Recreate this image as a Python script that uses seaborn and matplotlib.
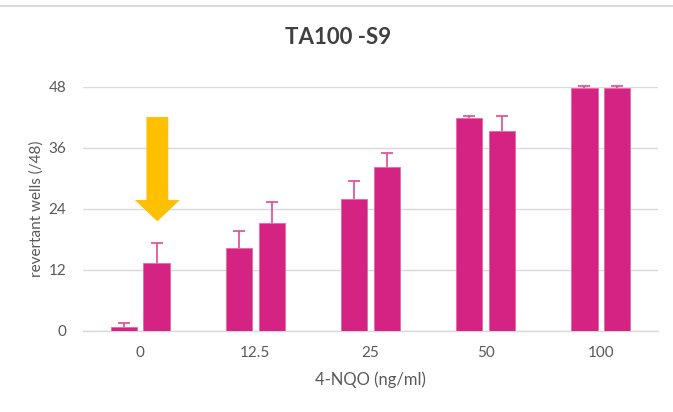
import matplotlib
matplotlib.use("Agg")
import matplotlib.pyplot as plt
import seaborn as sns
import pandas as pd
from matplotlib.patches import FancyArrow
from matplotlib.lines import Line2D

# ---- data ----
concentrations = ["0", "12.5", "25", "50", "100"]
series_a = [0.8, 16.2, 25.9, 41.8, 47.7]
series_b = [13.4, 21.2, 32.1, 39.3, 47.7]
err_a = [0.8, 3.4, 3.6, 0.5, 0.5]
err_b = [3.8, 4.1, 2.9, 3.0, 0.5]
yticks = [0, 12, 24, 36, 48]

BAR = "#D42382"
GRID = "#D9D9D9"
TXT = "#595959"

sns.set_theme(style="white")
plt.rcParams['font.family'] = ['Lato', 'DejaVu Sans']

df = pd.DataFrame({
    "conc": concentrations * 2,
    "series": ["A"] * 5 + ["B"] * 5,
    "value": series_a + series_b,
})
errs = {"A": err_a, "B": err_b}
vals = {"A": series_a, "B": series_b}

fig = plt.figure(figsize=(6.73, 4.12), dpi=100)
ax = fig.add_axes([0.123, 0.197, 0.855, 0.593])

sns.barplot(data=df, x="conc", y="value", hue="series", order=concentrations,
            hue_order=["A", "B"], palette=[BAR, BAR], width=0.57, gap=0.19,
            errorbar=None, legend=False, ax=ax, saturation=1,
            edgecolor="#E46AA6", linewidth=0.6, zorder=3)

for cont, key in zip(ax.containers, ["A", "B"]):
    xs = [p.get_x() + p.get_width() / 2 for p in cont.patches]
    _, caps, _ = ax.errorbar(xs, vals[key], yerr=[[0] * 5, errs[key]], fmt="none",
                             ecolor="#DE4A93", elinewidth=1.2, capsize=4,
                             capthick=1.2, zorder=4, clip_on=False)
    caps[0].set_visible(False)

ax.set_ylim(0, 48)
ax.set_yticks(yticks)
ax.set_xlim(-0.5, 4.5)
ax.yaxis.grid(True, color=GRID, linewidth=1)
ax.set_axisbelow(True)
for s in ["top", "right", "left"]:
    ax.spines[s].set_visible(False)
ax.spines["bottom"].set_color(GRID)
ax.spines["bottom"].set_linewidth(1)
ax.tick_params(axis="both", length=0, colors=TXT, labelsize=11)
ax.tick_params(axis="x", pad=11)
ax.tick_params(axis="y", pad=12)
ax.set_xlabel("4-NQO (ng/ml)", color=TXT, fontsize=12, labelpad=8)
ax.set_ylabel("revertant wells (/48)", color=TXT, fontsize=11, labelpad=3)

fig.text(0.502, 0.908, "TA100 -S9", ha="center", va="center",
         fontsize=16, fontweight="bold", color="#404040")

# arrow highlighting the 0 concentration
arrow = FancyArrow(0.148, 42.0, 0, -20.5, width=0.19, head_width=0.39,
                   head_length=4.2, length_includes_head=True,
                   color="#FFC000", zorder=5, linewidth=0)
ax.add_patch(arrow)

fig.add_artist(Line2D([0, 1], [1 - 6 / 412, 1 - 6 / 412], color="#D9D9D9",
                      linewidth=1.5, transform=fig.transFigure))

fig.savefig("out.png", dpi=100)
